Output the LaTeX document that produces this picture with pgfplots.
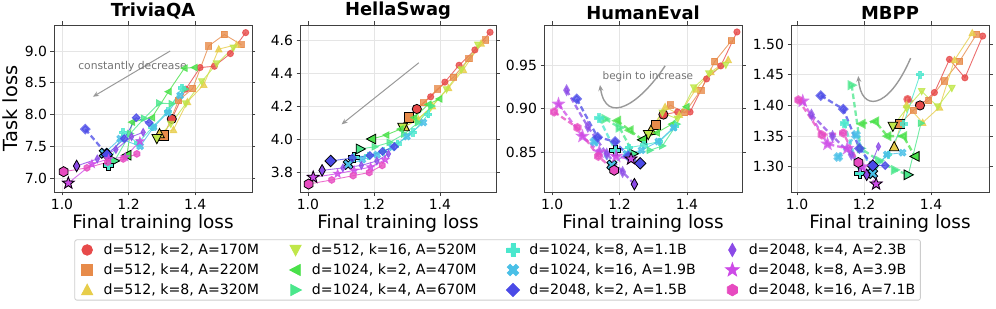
\documentclass[border=0pt]{standalone}
\usepackage{fontspec}
\setmainfont{DejaVu Sans}
\usepackage{pgfplots}
\pgfplotsset{compat=1.18}
\usetikzlibrary{arrows.meta}

\definecolor{c1}{RGB}{231,74,74}
\definecolor{c2}{RGB}{231,139,74}
\definecolor{c3}{RGB}{231,205,74}
\definecolor{c4}{RGB}{192,231,74}
\definecolor{c5}{RGB}{74,225,74}
\definecolor{c6}{RGB}{74,231,139}
\definecolor{c7}{RGB}{74,231,205}
\definecolor{c8}{RGB}{74,192,231}
\definecolor{c9}{RGB}{74,74,231}
\definecolor{c10}{RGB}{139,74,231}
\definecolor{c11}{RGB}{205,74,231}
\definecolor{c12}{RGB}{231,74,192}

\pgfdeclareplotmark{triU}{\pgfpathmoveto{\pgfqpoint{0pt}{1.1\pgfplotmarksize}}\pgfpathlineto{\pgfqpoint{-1.05\pgfplotmarksize}{-0.9\pgfplotmarksize}}\pgfpathlineto{\pgfqpoint{1.05\pgfplotmarksize}{-0.9\pgfplotmarksize}}\pgfpathclose\pgfusepathqfillstroke}
\pgfdeclareplotmark{triD}{\pgfpathmoveto{\pgfqpoint{0pt}{-1.1\pgfplotmarksize}}\pgfpathlineto{\pgfqpoint{-1.05\pgfplotmarksize}{0.9\pgfplotmarksize}}\pgfpathlineto{\pgfqpoint{1.05\pgfplotmarksize}{0.9\pgfplotmarksize}}\pgfpathclose\pgfusepathqfillstroke}
\pgfdeclareplotmark{triL}{\pgfpathmoveto{\pgfqpoint{-1.1\pgfplotmarksize}{0pt}}\pgfpathlineto{\pgfqpoint{0.9\pgfplotmarksize}{1.05\pgfplotmarksize}}\pgfpathlineto{\pgfqpoint{0.9\pgfplotmarksize}{-1.05\pgfplotmarksize}}\pgfpathclose\pgfusepathqfillstroke}
\pgfdeclareplotmark{triR}{\pgfpathmoveto{\pgfqpoint{1.1\pgfplotmarksize}{0pt}}\pgfpathlineto{\pgfqpoint{-0.9\pgfplotmarksize}{1.05\pgfplotmarksize}}\pgfpathlineto{\pgfqpoint{-0.9\pgfplotmarksize}{-1.05\pgfplotmarksize}}\pgfpathclose\pgfusepathqfillstroke}
\pgfdeclareplotmark{dia}{\pgfpathmoveto{\pgfqpoint{0pt}{1.25\pgfplotmarksize}}\pgfpathlineto{\pgfqpoint{1.25\pgfplotmarksize}{0pt}}\pgfpathlineto{\pgfqpoint{0pt}{-1.25\pgfplotmarksize}}\pgfpathlineto{\pgfqpoint{-1.25\pgfplotmarksize}{0pt}}\pgfpathclose\pgfusepathqfillstroke}
\pgfdeclareplotmark{tdia}{\pgfpathmoveto{\pgfqpoint{0pt}{1.25\pgfplotmarksize}}\pgfpathlineto{\pgfqpoint{0.7\pgfplotmarksize}{0pt}}\pgfpathlineto{\pgfqpoint{0pt}{-1.25\pgfplotmarksize}}\pgfpathlineto{\pgfqpoint{-0.7\pgfplotmarksize}{0pt}}\pgfpathclose\pgfusepathqfillstroke}
\pgfdeclareplotmark{hexa}{\pgfpathmoveto{\pgfpointpolar{90}{1.1\pgfplotmarksize}}\pgfpathlineto{\pgfpointpolar{150}{1.1\pgfplotmarksize}}\pgfpathlineto{\pgfpointpolar{210}{1.1\pgfplotmarksize}}\pgfpathlineto{\pgfpointpolar{270}{1.1\pgfplotmarksize}}\pgfpathlineto{\pgfpointpolar{330}{1.1\pgfplotmarksize}}\pgfpathlineto{\pgfpointpolar{30}{1.1\pgfplotmarksize}}\pgfpathclose\pgfusepathqfillstroke}
\pgfdeclareplotmark{fstar}{\pgfpathmoveto{\pgfpointpolar{90}{1.35\pgfplotmarksize}}\pgfpathlineto{\pgfpointpolar{126}{0.55\pgfplotmarksize}}\pgfpathlineto{\pgfpointpolar{162}{1.35\pgfplotmarksize}}\pgfpathlineto{\pgfpointpolar{198}{0.55\pgfplotmarksize}}\pgfpathlineto{\pgfpointpolar{234}{1.35\pgfplotmarksize}}\pgfpathlineto{\pgfpointpolar{270}{0.55\pgfplotmarksize}}\pgfpathlineto{\pgfpointpolar{306}{1.35\pgfplotmarksize}}\pgfpathlineto{\pgfpointpolar{342}{0.55\pgfplotmarksize}}\pgfpathlineto{\pgfpointpolar{18}{1.35\pgfplotmarksize}}\pgfpathlineto{\pgfpointpolar{54}{0.55\pgfplotmarksize}}\pgfpathclose\pgfusepathqfillstroke}
\pgfdeclareplotmark{pfill}{\pgfpathmoveto{\pgfqpoint{0.38\pgfplotmarksize}{1.15\pgfplotmarksize}}\pgfpathlineto{\pgfqpoint{0.38\pgfplotmarksize}{0.38\pgfplotmarksize}}\pgfpathlineto{\pgfqpoint{1.15\pgfplotmarksize}{0.38\pgfplotmarksize}}\pgfpathlineto{\pgfqpoint{1.15\pgfplotmarksize}{-0.38\pgfplotmarksize}}\pgfpathlineto{\pgfqpoint{0.38\pgfplotmarksize}{-0.38\pgfplotmarksize}}\pgfpathlineto{\pgfqpoint{0.38\pgfplotmarksize}{-1.15\pgfplotmarksize}}\pgfpathlineto{\pgfqpoint{-0.38\pgfplotmarksize}{-1.15\pgfplotmarksize}}\pgfpathlineto{\pgfqpoint{-0.38\pgfplotmarksize}{-0.38\pgfplotmarksize}}\pgfpathlineto{\pgfqpoint{-1.15\pgfplotmarksize}{-0.38\pgfplotmarksize}}\pgfpathlineto{\pgfqpoint{-1.15\pgfplotmarksize}{0.38\pgfplotmarksize}}\pgfpathlineto{\pgfqpoint{-0.38\pgfplotmarksize}{0.38\pgfplotmarksize}}\pgfpathlineto{\pgfqpoint{-0.38\pgfplotmarksize}{1.15\pgfplotmarksize}}\pgfpathclose\pgfusepathqfillstroke}
\pgfdeclareplotmark{xfill}{\pgftransformrotate{45}\pgfuseplotmark{pfill}}

\pgfplotsset{
 s1/.style={color=c1, mark=*},
 s2/.style={color=c2, mark=square*},
 s3/.style={color=c3, mark=triU},
 s4/.style={color=c4, mark=triD},
 s5/.style={color=c5, mark=triL},
 s6/.style={color=c6, mark=triR},
 s7/.style={color=c7, mark=pfill},
 s8/.style={color=c8, mark=xfill},
 s9/.style={color=c9, mark=dia},
 s10/.style={color=c10, mark=tdia},
 s11/.style={color=c11, mark=fstar},
 s12/.style={color=c12, mark=hexa},
 lg/.style={only marks, mark size=5.3bp, legend image code/.code={\path (0bp,0bp) (23bp,0bp); \draw[##1] plot coordinates {(9bp,0bp)};}},
 dl/.style={forget plot, line width=2.3bp, dash pattern=on 5.5bp off 3bp, opacity=0.75, mark size=3.1bp, mark options={solid}},
 ln/.style={forget plot, line width=0.9bp, opacity=0.8, mark size=3.1bp, mark options={solid}},
 bg/.style={forget plot, only marks, mark size=4.6bp, mark options={solid, draw=black, line width=0.8bp}},
 panel/.style={scale only axis, height=167bp, anchor=south west,
   axis line style={black!75, line width=0.8bp},
   grid=major, major grid style={black!10, line width=0.6bp},
   tick style={black!75, line width=0.8bp}, tick align=outside, major tick length=3.5bp,
   xtick={1.0,1.2,1.4}, xticklabels={1.0,1.2,1.4},
   /pgf/number format/assume math mode=true,
   ticklabel style={font=\fontsize{14}{15}\selectfont},
   title style={font=\fontsize{18}{20}\selectfont\bfseries, yshift=-4bp},
   xlabel={Final training loss},
   xlabel style={font=\fontsize{18.5}{20}\selectfont, yshift=1.5bp},
   ylabel style={font=\fontsize{19.5}{21}\selectfont},
 },
}
\newcommand{\ser}[4]{%
 \addplot[#1,dl] coordinates {#2};
 \addplot[#1,ln] coordinates {#3};
 \addplot[#1,bg] coordinates {#4};}

\begin{document}
\begin{tikzpicture}
% ---------------- TriviaQA
\begin{axis}[panel, at={(54bp,117bp)}, width=198bp,
  xmin=0.976, xmax=1.571, ymin=6.78, ymax=9.41,
  ytick={7,7.5,8,8.5,9}, yticklabels={7.0,7.5,8.0,8.5,9.0},
  title={TriviaQA}, ylabel={Task loss}]
\ser{s1}{(1.330,7.93)}{(1.330,7.93)(1.372,8.40)(1.415,8.74)(1.458,8.76)(1.506,8.96)(1.552,9.29)}{(1.330,7.93)}
\ser{s2}{(1.307,7.67)}{(1.307,7.67)(1.350,8.22)(1.393,8.41)(1.441,9.08)(1.488,9.26)(1.539,9.10)}{(1.307,7.67)}
\ser{s3}{(1.293,7.70)}{(1.293,7.70)(1.335,7.76)(1.377,8.20)(1.426,8.47)(1.471,9.03)(1.525,9.10)}{(1.293,7.70)}
\ser{s4}{(1.285,7.62)}{(1.285,7.62)(1.327,7.85)(1.372,8.17)(1.420,8.52)(1.465,8.80)(1.515,9.05)}{(1.285,7.62)}
\ser{s5}{(1.195,7.36)}{(1.195,7.36)(1.210,7.88)(1.270,7.95)(1.320,8.36)(1.368,8.73)(1.398,8.74)}{(1.195,7.36)}
\ser{s6}{(1.158,7.27)}{(1.158,7.27)(1.205,7.70)(1.247,7.94)(1.293,8.18)(1.330,8.17)(1.370,8.40)}{(1.158,7.27)}
\ser{s7}{(1.139,7.20)}{(1.139,7.20)(1.183,7.72)(1.228,7.55)(1.272,7.80)(1.318,8.05)(1.360,8.42)}{(1.139,7.20)}
\ser{s8}{(1.127,7.39)}{(1.127,7.39)(1.175,7.62)(1.235,7.50)(1.275,7.80)(1.318,8.03)(1.355,8.30)}{(1.127,7.39)}
\ser{s9}{(1.070,7.77)(1.135,7.37)}{(1.135,7.37)(1.187,7.62)(1.223,7.95)(1.262,7.87)}{(1.135,7.37)}
\ser{s10}{(1.044,7.19)}{(1.044,7.19)(1.106,7.30)(1.162,7.45)(1.209,7.65)(1.244,7.72)}{(1.044,7.19)}
\ser{s11}{(1.019,6.92)}{(1.019,6.92)(1.090,7.22)(1.140,7.30)(1.190,7.33)(1.234,7.58)}{(1.019,6.92)}
\ser{s12}{(1.005,7.10)}{(1.005,7.10)(1.075,7.16)(1.137,7.25)(1.184,7.30)(1.225,7.38)}{(1.005,7.10)}
\draw[-{Stealth[length=6bp,width=5bp]}, black!40, line width=1bp] (axis cs:1.325,9.0) -- (axis cs:1.093,8.28);
\node[text=black!55, font=\fontsize{10.8}{12}\selectfont] at (axis cs:1.212,8.76) {constantly decrease};
\end{axis}
% ---------------- HellaSwag
\begin{axis}[panel, at={(300bp,117bp)}, width=196bp,
  xmin=0.976, xmax=1.570, ymin=3.679, ymax=4.691,
  ytick={3.8,4.0,4.2,4.4,4.6}, yticklabels={3.8,4.0,4.2,4.4,4.6},
  title={HellaSwag},
  legend columns=4, legend cell align=left,
  legend style={at={(1.008,-0.467)}, anchor=center, draw=black!20, line width=0.8bp, rounded corners=2bp,
    font=\fontsize{14.2}{16}\selectfont, row sep=3.8bp, inner xsep=3bp, inner ysep=2bp,
    /tikz/every even column/.append style={column sep=25bp}}]
\ser{s1}{(1.330,4.182)}{(1.330,4.182)(1.372,4.256)(1.415,4.345)(1.458,4.447)(1.506,4.54)(1.552,4.647)}{(1.330,4.182)}
\ser{s2}{(1.307,4.131)}{(1.307,4.131)(1.350,4.22)(1.393,4.303)(1.441,4.374)(1.488,4.487)(1.539,4.60)}{(1.307,4.131)}
\ser{s3}{(1.293,4.075)}{(1.293,4.075)(1.335,4.12)(1.377,4.20)(1.426,4.31)(1.471,4.42)(1.525,4.58)}{(1.293,4.075)}
\ser{s4}{(1.287,4.070)}{(1.287,4.070)(1.327,4.11)(1.372,4.19)(1.420,4.30)(1.465,4.42)(1.515,4.57)}{(1.287,4.070)}
\ser{s5}{(1.193,4.0)}{(1.193,4.0)(1.237,4.024)(1.280,4.06)(1.322,4.13)(1.365,4.21)(1.398,4.243)}{(1.193,4.0)}
\ser{s6}{(1.159,3.94)}{(1.159,3.94)(1.203,3.953)(1.248,3.98)(1.292,4.03)(1.334,4.10)(1.375,4.20)}{(1.159,3.94)}
\ser{s7}{(1.140,3.889)}{(1.140,3.889)(1.183,3.90)(1.228,3.925)(1.272,3.97)(1.318,4.04)(1.365,4.15)}{(1.140,3.889)}
\ser{s8}{(1.122,3.846)}{(1.122,3.846)(1.165,3.875)(1.210,3.905)(1.255,3.95)(1.300,4.015)(1.350,4.10)}{(1.122,3.846)}
\ser{s9}{(1.069,3.867)}{(1.069,3.867)(1.135,3.885)(1.188,3.90)(1.226,3.925)(1.262,3.954)}{(1.069,3.867)}
\ser{s10}{(1.043,3.81)}{(1.043,3.81)(1.106,3.825)(1.162,3.84)(1.209,3.867)(1.244,3.91)}{(1.043,3.81)}
\ser{s11}{(1.016,3.768)}{(1.016,3.768)(1.090,3.79)(1.140,3.81)(1.190,3.83)(1.234,3.875)}{(1.016,3.768)}
\ser{s12}{(1.002,3.727)}{(1.002,3.727)(1.072,3.752)(1.137,3.778)(1.186,3.797)(1.225,3.84)}{(1.002,3.727)}
\draw[-{Stealth[length=6bp,width=5bp]}, black!40, line width=1bp] (axis cs:1.336,4.462) -- (axis cs:1.102,4.089);
\addlegendimage{s1, lg}\addlegendentry{d=512, k=2, A=170M}
\addlegendimage{s4, lg}\addlegendentry{d=512, k=16, A=520M}
\addlegendimage{s7, lg}\addlegendentry{d=1024, k=8, A=1.1B}
\addlegendimage{s10, lg}\addlegendentry{d=2048, k=4, A=2.3B}
\addlegendimage{s2, lg}\addlegendentry{d=512, k=4, A=220M}
\addlegendimage{s5, lg}\addlegendentry{d=1024, k=2, A=470M}
\addlegendimage{s8, lg}\addlegendentry{d=1024, k=16, A=1.9B}
\addlegendimage{s11, lg}\addlegendentry{d=2048, k=8, A=3.9B}
\addlegendimage{s3, lg}\addlegendentry{d=512, k=8, A=320M}
\addlegendimage{s6, lg}\addlegendentry{d=1024, k=4, A=670M}
\addlegendimage{s9, lg}\addlegendentry{d=2048, k=2, A=1.5B}
\addlegendimage{s12, lg}\addlegendentry{d=2048, k=16, A=7.1B}
\end{axis}
% ---------------- HumanEval
\begin{axis}[panel, at={(544bp,117bp)}, width=198bp,
  xmin=0.976, xmax=1.563, ymin=0.804, ymax=0.996,
  ytick={0.85,0.90,0.95}, yticklabels={0.85,0.90,0.95},
  title={HumanEval}]
\ser{s1}{(1.330,0.893)}{(1.330,0.893)(1.372,0.896)(1.409,0.896)(1.458,0.934)(1.500,0.949)(1.548,0.988)}{(1.330,0.893)}
\ser{s2}{(1.307,0.881)}{(1.307,0.881)(1.350,0.904)(1.393,0.895)(1.441,0.921)(1.482,0.954)(1.532,0.978)}{(1.307,0.881)}
\ser{s3}{(1.293,0.875)}{(1.293,0.875)(1.335,0.902)(1.377,0.893)(1.426,0.922)(1.471,0.942)(1.522,0.956)}{(1.293,0.875)}
\ser{s4}{(1.285,0.870)}{(1.285,0.870)(1.327,0.895)(1.372,0.888)(1.420,0.924)(1.465,0.940)(1.515,0.950)}{(1.285,0.870)}
\ser{s5}{(1.193,0.886)(1.230,0.875)(1.268,0.864)}{(1.268,0.864)(1.310,0.872)(1.355,0.882)(1.398,0.902)}{(1.268,0.864)}
\ser{s6}{(1.158,0.888)(1.200,0.878)(1.241,0.848)}{(1.241,0.848)(1.290,0.852)(1.327,0.857)(1.370,0.882)}{(1.241,0.848)}
\ser{s7}{(1.139,0.889)(1.187,0.852)}{(1.187,0.852)(1.228,0.855)(1.272,0.858)(1.318,0.862)(1.365,0.879)}{(1.187,0.852)}
\ser{s8}{(1.125,0.862)(1.177,0.835)}{(1.177,0.835)(1.220,0.848)(1.265,0.852)(1.315,0.862)(1.360,0.878)}{(1.177,0.835)}
\ser{s9}{(1.073,0.911)(1.135,0.867)(1.187,0.862)(1.226,0.845)(1.261,0.837)}{(1.261,0.837)}{(1.261,0.837)}
\ser{s10}{(1.043,0.921)(1.106,0.879)(1.162,0.848)(1.209,0.827)(1.244,0.813)}{(1.244,0.813)}{(1.244,0.813)}
\ser{s11}{(1.019,0.905)(1.090,0.868)(1.140,0.850)(1.190,0.845)(1.234,0.842)}{(1.234,0.842)}{(1.234,0.842)}
\ser{s12}{(1.006,0.896)(1.075,0.878)(1.137,0.845)(1.184,0.829)}{(1.184,0.829)}{(1.184,0.829)}
\draw[-{Stealth[length=6bp,width=5bp]}, black!40, line width=1.4bp] (axis cs:1.335,0.949) .. controls (axis cs:1.26,0.905) and (axis cs:1.16,0.880) .. (axis cs:1.142,0.927);
\node[text=black!55, font=\fontsize{10.5}{12}\selectfont] at (axis cs:1.284,0.937) {begin to increase};
\end{axis}
% ---------------- MBPP
\begin{axis}[panel, at={(791bp,117bp)}, width=198bp,
  xmin=0.982, xmax=1.573, ymin=1.259, ymax=1.531,
  ytick={1.30,1.35,1.40,1.45,1.50}, yticklabels={1.30,1.35,1.40,1.45,1.50},
  title={MBPP}]
\ser{s1}{(1.330,1.410)(1.367,1.400)}{(1.367,1.400)(1.410,1.421)(1.455,1.475)(1.501,1.445)(1.554,1.513)}{(1.367,1.400)}
\ser{s2}{(1.307,1.370)}{(1.307,1.370)(1.347,1.392)(1.393,1.408)(1.439,1.440)(1.485,1.472)(1.536,1.516)}{(1.307,1.370)}
\ser{s3}{(1.290,1.333)}{(1.290,1.333)(1.327,1.401)(1.375,1.372)(1.425,1.397)(1.470,1.474)(1.523,1.518)}{(1.290,1.333)}
\ser{s4}{(1.286,1.366)}{(1.286,1.366)(1.327,1.395)(1.372,1.423)(1.420,1.398)(1.462,1.428)}{(1.286,1.366)}
\ser{s5}{(1.193,1.370)(1.233,1.374)(1.270,1.350)(1.317,1.350)(1.352,1.317)}{(1.352,1.317)}{(1.352,1.317)}
\ser{s6}{(1.163,1.433)(1.190,1.330)(1.245,1.310)(1.292,1.295)(1.332,1.287)}{(1.332,1.287)(1.370,1.371)}{(1.332,1.287)}
\ser{s7}{(1.141,1.371)(1.188,1.289)}{(1.188,1.289)(1.228,1.300)(1.272,1.320)(1.318,1.370)(1.367,1.450)}{(1.188,1.289)}
\ser{s8}{(1.123,1.316)(1.176,1.352)(1.226,1.289)}{(1.226,1.289)(1.268,1.320)(1.315,1.323)}{(1.226,1.289)}
\ser{s9}{(1.071,1.416)(1.138,1.394)(1.186,1.330)(1.226,1.302)}{(1.226,1.302)(1.263,1.302)}{(1.226,1.302)}
\ser{s10}{(1.043,1.385)(1.106,1.350)(1.162,1.320)(1.208,1.287)}{(1.208,1.287)(1.243,1.333)}{(1.208,1.287)}
\ser{s11}{(1.017,1.407)(1.091,1.337)(1.150,1.330)(1.195,1.300)(1.236,1.272)}{(1.236,1.272)}{(1.236,1.272)}
\ser{s12}{(1.004,1.409)(1.074,1.352)(1.138,1.355)(1.183,1.307)}{(1.183,1.307)}{(1.183,1.307)}
\draw[-{Stealth[length=6bp,width=5bp]}, black!40, line width=1.4bp] (axis cs:1.339,1.477) .. controls (axis cs:1.27,1.39) and (axis cs:1.19,1.39) .. (axis cs:1.183,1.448);
\end{axis}
\pgfresetboundingbox
\path[use as bounding box] (0,0) rectangle (996bp,309bp);
\end{tikzpicture}
\end{document}
